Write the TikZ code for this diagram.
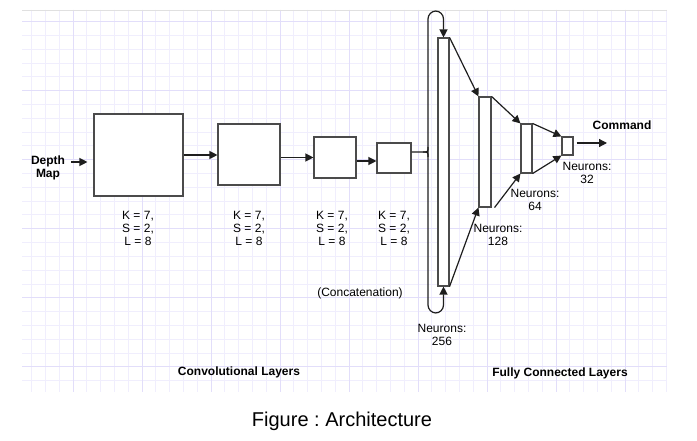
\documentclass[tikz,border=0pt]{standalone}
\usepackage{fontspec}
\setmainfont{Liberation Sans}
\usetikzlibrary{arrows.meta}
\frenchspacing
\definecolor{gridminor}{RGB}{240,238,253}
\definecolor{gridmajor}{RGB}{226,222,250}
\definecolor{lineclr}{RGB}{30,30,30}
\tikzset{
  box/.style={draw=lineclr!80, line width=1.1pt, fill=white, minimum width=#1, inner sep=0pt},
  arr/.style={draw=lineclr, line width=1.2pt, -{Triangle[length=8pt,width=8pt]}},
  plain/.style={draw=lineclr, line width=1.2pt},
  txt/.style={inner sep=0pt, align=center, font=\fontsize{12}{13}\selectfont},
  btxt/.style={inner sep=0pt, align=center, font=\fontsize{12}{13}\selectfont\bfseries},
}
\begin{document}
\begin{tikzpicture}[x=1pt,y=-1pt]
\useasboundingbox (0,0) rectangle (697,441);
\fill[white] (0,0) rectangle (697,441);
% grid
\begin{scope}
\clip (22,10) rectangle (667,392);
\foreach \i in {-4,...,44} \draw[gridminor, line width=0.8pt] ({73+13.8*\i},10) -- ({73+13.8*\i},392);
\foreach \i in {-1,...,27} \draw[gridminor, line width=0.8pt] (22,{21.7+13.8*\i}) -- (667,{21.7+13.8*\i});
\foreach \i in {-1,...,9} \draw[gridmajor, line width=0.9pt] ({73+69*\i},10) -- ({73+69*\i},392);
\foreach \i in {-1,...,6} \draw[gridmajor, line width=0.9pt] (22,{21.7+69*\i}) -- (667,{21.7+69*\i});
\end{scope}
\draw[black!12, line width=0.8pt] (22,10) -- (667,10);

% conv boxes
\node[box=89pt, minimum height=82pt] (box1) at (138.5,155) {};
\node[box=62pt, minimum height=61pt] (box2) at (249,154.5) {};
\node[box=42pt, minimum height=41pt] (box3) at (335,157.5) {};
\node[box=34pt, minimum height=30pt] (box4) at (394,158) {};

\node[btxt] (depth) at (48,168) {Depth\\Map};
\draw[arr] ([xshift=6pt,yshift=6pt]depth.east) -- ([xshift=-6pt,yshift=-7pt]box1.west);
\draw[arr] (box1.east) -- (box2.west |- box1.east);
\draw[arr] (box2.east |- box3.west) -- (box3.west);
\draw[arr] ([yshift=-3pt]box3.east |- box4.west) -- ([yshift=-3pt]box4.west);

\node[txt] (l1) at (138,228) {K = 7,\\S = 2,\\L = 8};
\node[txt] (l2) at (249,228) {K = 7,\\S = 2,\\L = 8};
\node[txt] (l3) at (332,228) {K = 7,\\S = 2,\\L = 8};
\node[txt] (l4) at (394,228) {K = 7,\\S = 2,\\L = 8};
\node[txt] (concat) at (360,293) {(Concatenation)};

% fc bars
\node[box=11pt, minimum height=248pt] (b256) at (443.5,162) {};
\node[box=12pt, minimum height=110pt] (b128) at (485,152) {};
\node[box=11pt, minimum height=49pt] (b64) at (526.5,148.5) {};
\node[box=11pt, minimum height=18pt] (b32) at (567.5,146) {};

% brace
\coordinate (bl) at (428,152);
\coordinate (btop) at (428,11);
\coordinate (bbot) at (428,313);
\draw[arr, rounded corners=8pt] (bl) -- (btop) -- (btop -| b256.north) -- (b256.north);
\draw[arr, rounded corners=8pt] (bl) -- (bbot) -- (bbot -| b256.south) -- (b256.south);
\draw[plain] (box4.east |- bl) -- ([xshift=-5pt]bl) .. controls (bl) .. ([yshift=5pt]bl);
\draw[plain] ([xshift=-5pt]bl) .. controls (bl) .. ([yshift=-5pt]bl);

% fc arrows
\draw[arr] (b256.north east) -- (b128.north west);
\draw[arr] (b256.south east) -- (b128.south west);
\draw[arr] (b128.north east) -- (b64.north west);
\draw[arr] ([xshift=3pt]b128.south east) -- (b64.south west);
\draw[arr] (b64.north east) -- (b32.north west);
\draw[arr] (b64.south east) -- (b32.south west);
\coordinate (cmdend) at (607,143);
\draw[arr] ([xshift=3pt]b32.east |- cmdend) -- (cmdend);

\node[btxt] (cmd) at (622,125) {Command};
\node[txt] (n32) at (587,172.5) {Neurons:\\32};
\node[txt] (n64) at (535,200) {Neurons:\\64};
\node[txt] (n128) at (498,235) {Neurons:\\128};
\node[txt] (n256) at (442,334.5) {Neurons:\\256};

\node[btxt] (conv) at (239,372) {Convolutional Layers};
\node[btxt] (fcl) at (560,373) {Fully Connected Layers};
\node[inner sep=0pt, font=\fontsize{20}{24}\selectfont] (cap) at (342,421) {Figure : Architecture};
\end{tikzpicture}
\end{document}
